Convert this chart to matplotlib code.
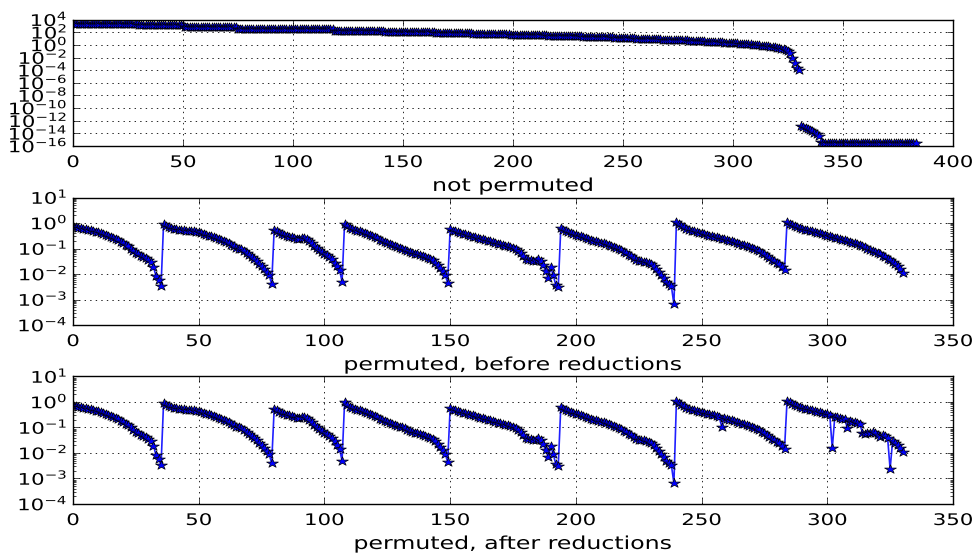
import numpy as np
import matplotlib
matplotlib.use("Agg")
import matplotlib.pyplot as plt
from matplotlib.path import Path
from matplotlib.markers import MarkerStyle
from matplotlib.transforms import Affine2D
from matplotlib.patheffects import AbstractPathEffect

# ---------------------------------------------------------------- data
# singular values (log10) of the unpermuted matrix: a slowly falling staircase ...
np_step_levels = [3.35, 3.1, 2.8, 2.55, 2.45, 2.25, 2.0, 1.82, 1.7, 1.55, 1.35, 1.18, 1.02]
np_step_counts = [30, 21, 24, 24, 20, 23, 23, 17, 17, 17, 16, 14, 10]
# ... then a smooth roll-off down to the numerical rank ...
np_rolloff = [0.98, 0.97, 0.96, 0.95, 0.94, 0.93, 0.92, 0.9, 0.89, 0.88,
              0.87, 0.86, 0.85, 0.84, 0.83, 0.82, 0.81, 0.8, 0.79, 0.78,
              0.77, 0.75, 0.74, 0.72, 0.7, 0.68, 0.66, 0.64, 0.62, 0.6,
              0.58, 0.56, 0.54, 0.52, 0.5, 0.48, 0.46, 0.44, 0.42, 0.4,
              0.38, 0.36, 0.34, 0.32, 0.3, 0.28, 0.25, 0.22, 0.2, 0.17,
              0.14, 0.11, 0.08, 0.05, 0.02, -0.02, -0.06, -0.1, -0.14, -0.18,
              -0.22, -0.27, -0.32, -0.37, -0.43, -0.5, -0.57, -0.66, -0.76, -0.9,
              -1.2, -2.0, -2.8, -3.6, -4.0]
# ... and the round-off level values of the null space
np_null = [-12.9, -13.05, -13.2, -13.35, -13.5, -13.7, -13.9, -14.1, -14.4, -15.35] + [-15.6] * 43

# permuted matrix: one decaying block per reduction (log10 values)
blk1 = [-0.12, -0.15, -0.18, -0.2, -0.22, -0.25, -0.27, -0.29, -0.31, -0.34,
        -0.36, -0.39, -0.43, -0.47, -0.52, -0.56, -0.6, -0.64, -0.68, -0.73,
        -0.78, -0.85, -0.92, -1.0, -1.1, -1.18, -1.23, -1.28, -1.33, -1.38,
        -1.45, -1.52, -1.73, -2.08, -2.24, -2.47]
blk2 = [-0.05, -0.12, -0.17, -0.2, -0.23, -0.25, -0.27, -0.28, -0.29, -0.3,
        -0.3, -0.31, -0.33, -0.35, -0.37, -0.4, -0.43, -0.46, -0.49, -0.52,
        -0.55, -0.58, -0.62, -0.66, -0.7, -0.75, -0.8, -0.86, -0.92, -0.98,
        -1.0, -1.03, -1.1, -1.18, -1.26, -1.34, -1.42, -1.5, -1.6, -1.7,
        -1.8, -1.92, -2.05, -2.4]
blk3 = [-0.27, -0.33, -0.38, -0.43, -0.47, -0.5, -0.53, -0.56, -0.6, -0.63,
        -0.62, -0.6, -0.57, -0.62, -0.7, -0.8, -0.9, -0.98, -1.06, -1.14,
        -1.2, -1.27, -1.33, -1.4, -1.55, -1.7, -1.84, -2.3]
blk4 = [-0.02, -0.12, -0.18, -0.23, -0.27, -0.3, -0.33, -0.36, -0.39, -0.43,
        -0.47, -0.51, -0.55, -0.6, -0.65, -0.7, -0.75, -0.8, -0.84, -0.87,
        -0.9, -0.93, -0.97, -1.0, -1.04, -1.08, -1.12, -1.16, -1.2, -1.23,
        -1.26, -1.3, -1.33, -1.37, -1.41, -1.45, -1.55, -1.66, -1.78, -1.9,
        -2.04, -2.34]
blk5 = [-0.25, -0.3, -0.33, -0.36, -0.39, -0.42, -0.45, -0.47, -0.5, -0.53,
        -0.56, -0.59, -0.62, -0.64, -0.67, -0.7, -0.72, -0.75, -0.78, -0.81,
        -0.84, -0.86, -0.89, -0.92, -0.95, -0.98, -1.02, -1.08, -1.19, -1.3,
        -1.4, -1.45, -1.47, -1.49, -1.5, -1.42, -1.5, -1.65, -1.9, -2.17,
        -1.74, -2.04, -2.43, -2.5]
blk6 = [-0.21, -0.28, -0.33, -0.37, -0.4, -0.43, -0.46, -0.49, -0.52, -0.55,
        -0.6, -0.63, -0.66, -0.69, -0.72, -0.75, -0.78, -0.8, -0.83, -0.86,
        -0.89, -0.93, -0.97, -1.02, -1.07, -1.12, -1.18, -1.24, -1.3, -1.37,
        -1.44, -1.48, -1.5, -1.51, -1.52, -1.56, -1.6, -1.68, -1.8, -1.92,
        -2.05, -2.17, -2.3, -2.4, -2.48, -3.19]
blk7 = [0.03, -0.05, -0.12, -0.17, -0.22, -0.26, -0.3, -0.33, -0.36, -0.39,
        -0.41, -0.44, -0.47, -0.49, -0.51, -0.53, -0.56, -0.58, -0.61, -0.63,
        -0.66, -0.69, -0.72, -0.75, -0.78, -0.82, -0.85, -0.88, -0.91, -0.94,
        -0.97, -1.01, -1.05, -1.1, -1.16, -1.23, -1.3, -1.37, -1.44, -1.5,
        -1.56, -1.61, -1.72, -1.84]
blk8 = [0.03, -0.02, -0.08, -0.13, -0.17, -0.2, -0.23, -0.26, -0.28, -0.3,
        -0.33, -0.36, -0.38, -0.41, -0.44, -0.46, -0.49, -0.52, -0.54, -0.57,
        -0.6, -0.62, -0.65, -0.68, -0.71, -0.74, -0.77, -0.8, -0.84, -0.88,
        -0.92, -0.96, -1.0, -1.04, -1.08, -1.13, -1.18, -1.23, -1.28, -1.34,
        -1.4, -1.46, -1.52, -1.6, -1.7, -1.8, -1.95]

# entries that change after the reductions (index -> log10 value)
reduced_idx = [258, 302, 308, 314, 315, 316, 317, 318, 319, 320, 321, 325]
reduced_val = [-0.97, -1.82, -1.03, -1.2, -1.25, -1.22, -1.2, -1.18, -1.22, -1.3, -1.38, -2.63]

top_xticks = [0, 50, 100, 150, 200, 250, 300, 350, 400]
perm_xticks = [0, 50, 100, 150, 200, 250, 300, 350]
top_yexp = [-16, -14, -12, -10, -8, -6, -4, -2, 0, 2, 4]
perm_yexp = [-4, -3, -2, -1, 0, 1]
titles = ["not permuted", "permuted, before reductions", "permuted, after reductions"]

# ---------------------------------------------------------------- series
log_np = np.concatenate([np.repeat(np_step_levels, np_step_counts), np_rolloff, np_null])
sv_np = 10.0 ** log_np
log_before = np.concatenate([blk1, blk2, blk3, blk4, blk5, blk6, blk7, blk8])
log_after = log_before.copy()
log_after[reduced_idx] = reduced_val
sv_before = 10.0 ** log_before
sv_after = 10.0 ** log_after

# ---------------------------------------------------------------- style
plt.style.use("classic")
plt.rcParams.update({
    "figure.facecolor": "white",
    "savefig.facecolor": "white",
    "font.family": ["DejaVu Sans"],
    "font.size": 11.5,
    "axes.linewidth": 1.0,
    "grid.color": "black",
    "grid.linestyle": ":",
    "grid.linewidth": 0.6,
    "xtick.major.pad": 6.5,
    "xtick.minor.pad": 6.5,
})

XSTRETCH = 1.33  # horizontal widening of glyphs and markers


class WideGlyphs(AbstractPathEffect):
    """Widen text horizontally about its left, centre or right edge."""

    def __init__(self, sx, anchor="center"):
        super().__init__()
        self.sx = sx
        self.anchor = anchor

    def draw_path(self, renderer, gc, tpath, affine, rgbFace=None):
        ext = tpath.get_extents()
        if self.anchor == "right":
            cx = ext.x1
        elif self.anchor == "left":
            cx = ext.x0
        else:
            cx = 0.5 * (ext.x0 + ext.x1)
        t = Affine2D().translate(-cx, 0).scale(self.sx, 1.0).translate(cx, 0) + affine
        renderer.draw_path(gc, tpath, t, rgbFace)


star = MarkerStyle("*")
star_path = star.get_path().transformed(star.get_transform() + Affine2D().scale(XSTRETCH, 1.0))

fig = plt.figure(figsize=(9.74, 5.57), dpi=100)
rects = [[0.075, 0.7379, 0.9034, 0.2268],
         [0.075, 0.4165, 0.9034, 0.2289],
         [0.075, 0.0952, 0.9034, 0.2289]]
axes = [fig.add_axes(r) for r in rects]

mk = dict(marker=Path(star_path.vertices, star_path.codes), markersize=8.5,
          markerfacecolor="b", markeredgecolor="k", markeredgewidth=0.5)

ax = axes[0]
ax.semilogy(np.arange(len(sv_np)), sv_np, linestyle="none", **mk)
ax.set_xlim(top_xticks[0], top_xticks[-1])
ax.set_ylim(10.0 ** top_yexp[0], 10.0 ** top_yexp[-1])
ax.set_xticks(top_xticks)
ax.set_yticks([10.0 ** e for e in top_yexp])

for ax, sv in ((axes[1], sv_before), (axes[2], sv_after)):
    ax.semilogy(np.arange(len(sv)), sv, "-", color="#2020ff", linewidth=1.2, **mk)
    ax.set_xlim(perm_xticks[0], perm_xticks[-1])
    ax.set_ylim(10.0 ** perm_yexp[0], 10.0 ** perm_yexp[-1])
    ax.set_xticks(perm_xticks)
    ax.set_yticks([10.0 ** e for e in perm_yexp])

for ax, title in zip(axes, titles):
    ax.grid(True)
    ax.set_xlabel(title, labelpad=5, fontsize=12.8)
    ax.tick_params(which="both", direction="in")

fig.canvas.draw()
for ax in axes:
    for lab in ax.get_xticklabels():
        lab.set_path_effects([WideGlyphs(XSTRETCH, "center")])
    for lab in ax.get_yticklabels():
        lab.set_path_effects([WideGlyphs(XSTRETCH, "right")])
    ax.xaxis.label.set_path_effects([WideGlyphs(XSTRETCH, "center")])

fig.savefig("out.png", dpi=100)
